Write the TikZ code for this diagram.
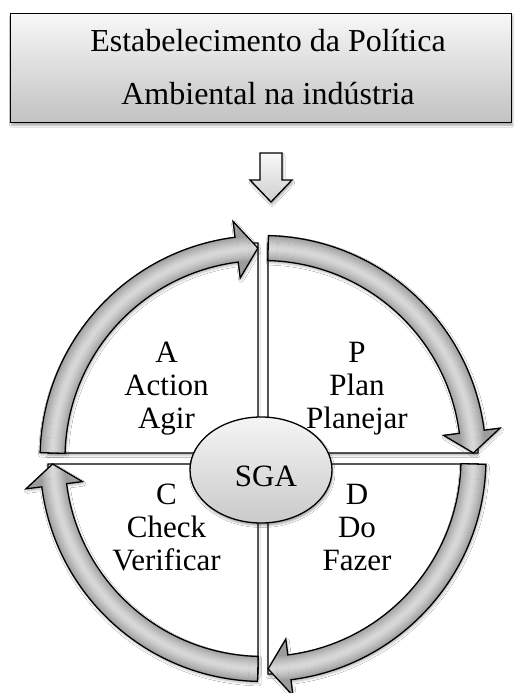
\documentclass[tikz,border=0pt]{standalone}
\usepackage{fontspec}
\setmainfont{Liberation Serif}
\usetikzlibrary{shapes.geometric,shadows.blur}

% ring arrow: tail angle, angle of the back of the head, tip angle
\newcommand\pdcaring[3]{%
  (#1:223pt) arc[start angle=#1, end angle=#2, radius=223pt]
  -- (#2:239pt) -- (#3:210.5pt) -- (#2:182pt) -- (#2:198pt)
  arc[start angle=#2, end angle=#1, radius=198pt] -- cycle}

% shaded, outlined ring arrow
\newcommand\ringarrow[3]{%
  \path[blur shadow={shadow xshift=1pt, shadow yshift=-2pt,
        shadow blur radius=2.5pt, shadow opacity=30}] \pdcaring{#1}{#2}{#3};
  \begin{scope}
    \clip \pdcaring{#1}{#2}{#3};
    \foreach \r in {178,179,...,242}{%
      \pgfmathsetmacro\lv{0.85-0.24*min(1,abs(\r-210.5)/12.5)^1.4}%
      \definecolor{ringshade}{gray}{\lv}%
      \draw[ringshade, line width=1.4pt] (0,0) circle[radius=\r pt];
    }
  \end{scope}
  \draw[outline] \pdcaring{#1}{#2}{#3};}

\tikzset{
  outline/.style={draw=black, line width=1.3pt, line join=miter},
  quad/.style={outline, fill=white,
    blur shadow={shadow xshift=0pt, shadow yshift=-2.5pt,
      shadow blur radius=2pt, shadow opacity=25}},
  label/.style={font=\fontsize{31}{33}\selectfont, inner sep=0pt, anchor=base},
  titletext/.style={font=\fontsize{32}{34}\selectfont, inner sep=0pt, anchor=base},
}

\begin{document}
\begin{tikzpicture}[x=1pt, y=1pt]
\useasboundingbox (0,0) rectangle (514,693);
\fill[white] (0,0) rectangle (514,693);

% title box
\node[outline, top color=gray!6, bottom color=gray!48, rectangle,
      minimum width=501pt, minimum height=109pt, inner sep=0pt,
      anchor=north west,
      blur shadow={shadow xshift=1pt, shadow yshift=-2.5pt,
        shadow blur radius=2pt, shadow opacity=35}] (policy) at (10,680) {};
\node[titletext] (policy1) at (268,641) {Estabelecimento da Política};
\node[titletext] (policy2) at (268,588) {Ambiental na indústria};

% small down arrow
\draw[outline, top color=gray!5, bottom color=gray!38,
      blur shadow={shadow xshift=1pt, shadow yshift=-2.5pt,
        shadow blur radius=2pt, shadow opacity=35}]
  (260,540) -- (282,540) -- (282,513) -- (292,513) -- (271,491)
  -- (250,513) -- (260,513) -- cycle;

% four quadrants
\draw[quad] (258,240) -- (48,240) arc[start angle=180, end angle=90, radius=210pt] -- cycle;
\draw[quad] (268,240) -- (268,450) arc[start angle=90, end angle=0, radius=210pt] -- cycle;
\draw[quad] (268,229) -- (478,229) arc[start angle=0, end angle=-90, radius=210pt] -- cycle;
\draw[quad] (258,229) -- (258,19) arc[start angle=-90, end angle=-180, radius=210pt] -- cycle;

% cycle arrows around the centre
\begin{scope}[shift={(263,234.5)}]
  \ringarrow{178.5}{97.2}{91.4}
  \ringarrow{88.6}{7.3}{1.5}
  \ringarrow{-1.5}{-82.8}{-88.6}
  \ringarrow{-91.4}{-172.7}{-178.5}
\end{scope}

% quadrant texts
\node[label] (a1) at (166.5,330) {A};
\node[label] (a2) at (166.5,297) {Action};
\node[label] (a3) at (166.5,264) {Agir};
\node[label] (p1) at (357,330) {P};
\node[label] (p2) at (357,297) {Plan};
\node[label] (p3) at (357,264) {Planejar};
\node[label] (c1) at (166.5,188) {C};
\node[label] (c2) at (166.5,155) {Check};
\node[label] (c3) at (166.5,122) {Verificar};
\node[label] (d1) at (357,188) {D};
\node[label] (d2) at (357,155) {Do};
\node[label] (d3) at (357,122) {Fazer};

% centre
\node[ellipse, outline, top color=gray!8, bottom color=gray!42,
      minimum width=142pt, minimum height=106pt, inner sep=0pt,
      blur shadow={shadow xshift=1pt, shadow yshift=-2.5pt,
        shadow blur radius=2pt, shadow opacity=35}] (sga) at (261,223) {};
\node[label] (sgatext) at (266,206) {SGA};
\end{tikzpicture}
\end{document}
